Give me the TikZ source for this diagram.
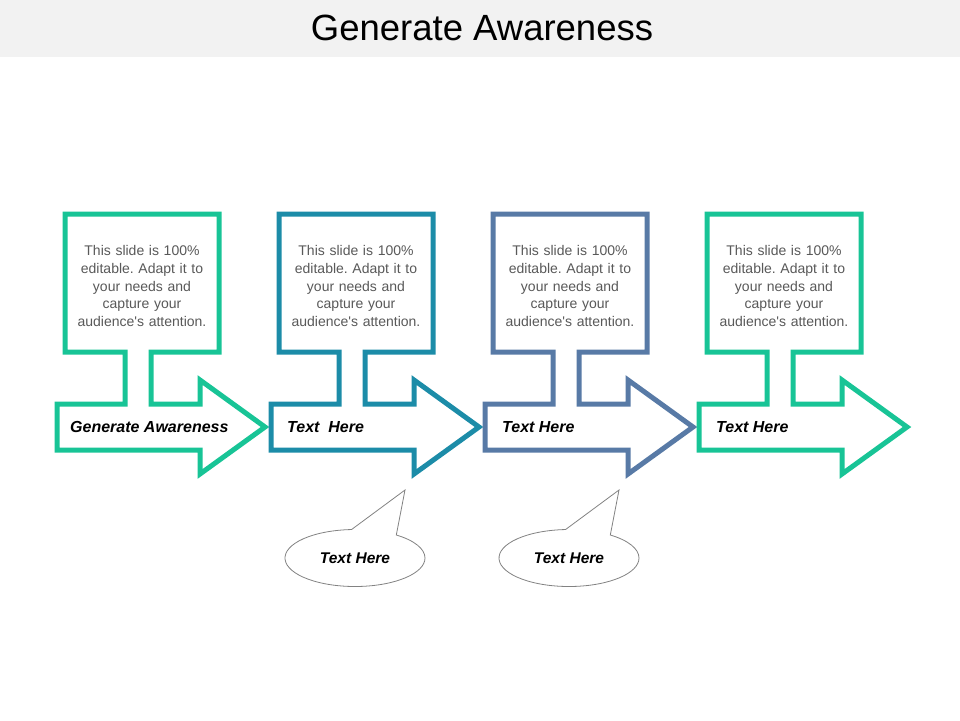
\documentclass[tikz,border=0pt]{standalone}
\usepackage{fontspec}
\setmainfont{Liberation Sans}
\usetikzlibrary{shapes.callouts}
\definecolor{mint}{RGB}{24,196,150}
\definecolor{petrol}{RGB}{28,140,168}
\definecolor{steel}{RGB}{88,122,166}
\definecolor{bodygray}{RGB}{89,89,89}
\definecolor{notegray}{RGB}{130,130,130}
\definecolor{titlebg}{RGB}{242,242,242}
\frenchspacing

\begin{document}
\begin{tikzpicture}[x=1pt,y=-1pt]
    \def\dx{214}

    \tikzstyle{body}=[text=bodygray,text width=150pt,align=center,inner sep=0pt,font=\fontsize{14}{17.8}\selectfont]
    \tikzstyle{tag}=[anchor=west,inner sep=0pt,font=\fontsize{16}{18}\selectfont\bfseries\itshape]
    \tikzstyle{blk}=[line width=5pt,fill=white,miter limit=20]
    \tikzstyle{note}=[ellipse callout,draw=notegray,line width=0.8pt,fill=white,minimum width=140pt,minimum height=57pt,inner sep=0pt,callout pointer arc=39,font=\fontsize{15.5}{18}\selectfont\bfseries\itshape]

    \useasboundingbox (0,0) rectangle (960,720);
    \fill[titlebg] (0,0) rectangle (960,57);
    \node (title) at (482,28) {\fontsize{36.5}{40}\selectfont Generate Awareness};

    % box, stem and arrow as one outline
    \def\outline{(125,404) -- (125,352) -- (65,352) -- (65,214) -- (219,214) -- (219,352)
        -- (151,352) -- (151,404) -- (200,404) -- (200,380) -- (265,427) -- (200,474)
        -- (200,450) -- (57,450) -- (57,404) -- cycle}

    \draw [blk,draw=mint] \outline;
    \draw [blk,draw=petrol,xshift=\dx] \outline;
    \draw [blk,draw=steel,xshift=2*\dx] \outline;
    \draw [blk,draw=mint,xshift=3*\dx] \outline;

    \node[body] (txt1) at (142,286) {This slide is 100\%\\ editable. Adapt it to\\ your needs and\\ capture your\\ audience\textquotesingle s attention.};
    \node[body] (txt2) at (142+\dx,286) {This slide is 100\%\\ editable. Adapt it to\\ your needs and\\ capture your\\ audience\textquotesingle s attention.};
    \node[body] (txt3) at (142+2*\dx,286) {This slide is 100\%\\ editable. Adapt it to\\ your needs and\\ capture your\\ audience\textquotesingle s attention.};
    \node[body] (txt4) at (142+3*\dx,286) {This slide is 100\%\\ editable. Adapt it to\\ your needs and\\ capture your\\ audience\textquotesingle s attention.};

    \node[tag] (tag1) at (70,427) {Generate Awareness};
    \node[tag] (tag2) at (73+\dx,427) {Text \ Here};
    \node[tag] (tag3) at (74+2*\dx,427) {Text Here};
    \node[tag] (tag4) at (74+3*\dx,427) {Text Here};

    \coordinate (tip1) at (405,490);
    \coordinate (tip2) at (405+\dx,490);
    \node[note,callout absolute pointer={(tip1)}] (note1) at (355,558) {Text Here};
    \node[note,callout absolute pointer={(tip2)}] (note2) at (355+\dx,558) {Text Here};

\end{tikzpicture}
\end{document}
